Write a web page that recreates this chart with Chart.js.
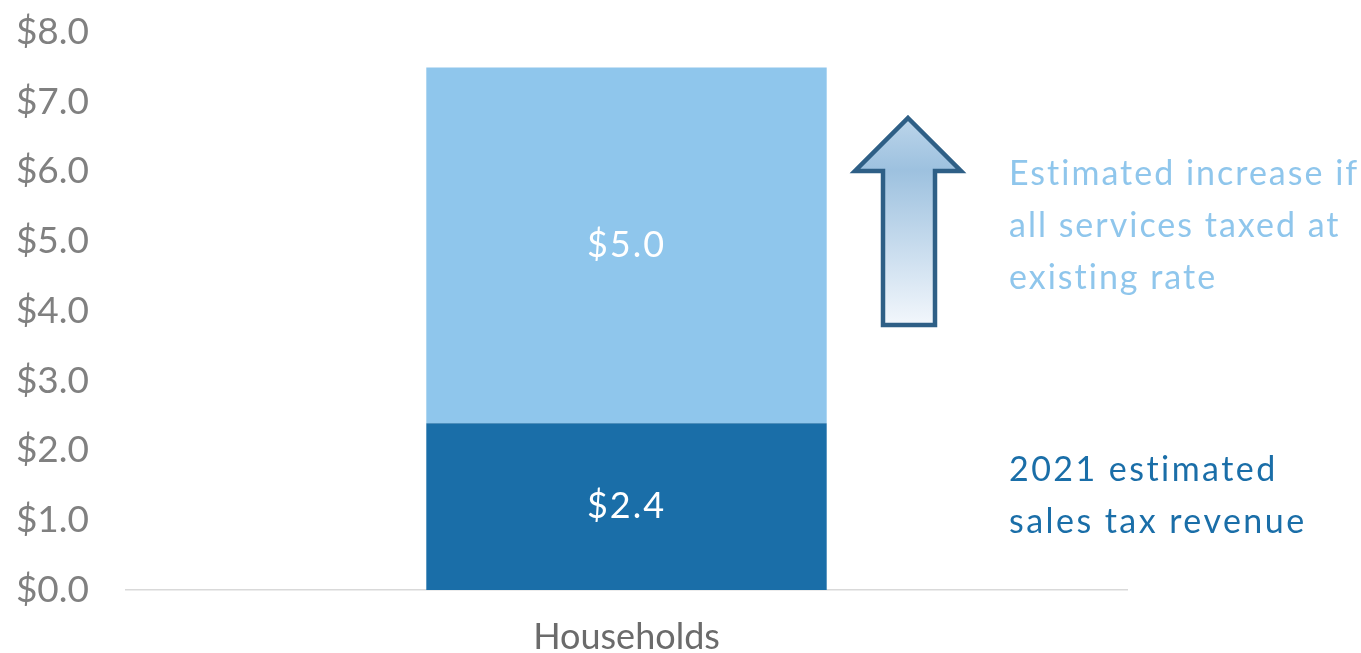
<!DOCTYPE html>
<html>
<head>
<meta charset="utf-8">
<script src="https://cdn.jsdelivr.net/npm/chart.js@4"></script>
<style>
  html, body { margin: 0; padding: 0; background: #fff; }
  #wrap { position: relative; width: 1361px; height: 653px; }
  .note { position: absolute; font-family: "Lato", sans-serif; font-size: 34px; line-height: 52px; letter-spacing: 2px; white-space: nowrap; }
  #noteTop { left: 1009px; top: 146px; color: #8fc6ec; }
  #noteBottom { left: 1009px; top: 442px; color: #1a6ea8; letter-spacing: 2.45px; }
</style>
</head>
<body>
<div id="wrap">
  <canvas id="chart" width="1361" height="653"></canvas>
  <div class="note" id="noteTop">Estimated increase if<br>all services taxed at<br>existing rate</div>
  <div class="note" id="noteBottom">2021 estimated<br>sales tax revenue</div>
</div>
<script>
const categories = ["Households"];
const baseRevenue = [2.39];
const increase = [5.1];
const baseLabels = ["$2.4"];
const increaseLabels = ["$5.0"];
const yTicks = [0, 1, 2, 3, 4, 5, 6, 7, 8];

// white value labels in the middle of each segment
const segmentLabels = {
  id: "segmentLabels",
  afterDatasetsDraw(chart) {
    const ctx = chart.ctx;
    const texts = [baseLabels, increaseLabels];
    ctx.save();
    ctx.fillStyle = "#ffffff";
    ctx.font = "36px Lato";
    ctx.letterSpacing = "2px";
    ctx.textAlign = "center";
    ctx.textBaseline = "middle";
    chart.data.datasets.forEach((ds, i) => {
      chart.getDatasetMeta(i).data.forEach((bar, j) => {
        const mid = (bar.y + bar.base) / 2;
        ctx.fillText(texts[i][j], bar.x, mid);
      });
    });
    ctx.restore();
  }
};

// the up arrow next to the bar
const upArrow = {
  id: "upArrow",
  afterDraw(chart) {
    const ctx = chart.ctx;
    ctx.save();
    const grad = ctx.createLinearGradient(0, 118, 0, 326);
    grad.addColorStop(0, "#bcd5ea");
    grad.addColorStop(0.25, "#9dc1df");
    grad.addColorStop(1, "#f3f7fc");
    ctx.beginPath();
    ctx.moveTo(908, 118);
    ctx.lineTo(961, 171);
    ctx.lineTo(935, 171);
    ctx.lineTo(935, 325);
    ctx.lineTo(883, 325);
    ctx.lineTo(883, 171);
    ctx.lineTo(855, 171);
    ctx.closePath();
    ctx.fillStyle = grad;
    ctx.fill();
    ctx.lineWidth = 4.5;
    ctx.strokeStyle = "#2e5f86";
    ctx.lineJoin = "miter";
    ctx.stroke();
    ctx.restore();
  }
};

const ctx = document.getElementById("chart").getContext("2d");
new Chart(ctx, {
  type: "bar",
  data: {
    labels: categories,
    datasets: [
      { label: "2021 estimated sales tax revenue", data: baseRevenue, backgroundColor: "#1a6ea8",
        barPercentage: 0.4, categoryPercentage: 1.0 },
      { label: "Estimated increase if all services taxed at existing rate", data: increase, backgroundColor: "#8fc6ec",
        barPercentage: 0.4, categoryPercentage: 1.0 }
    ]
  },
  options: {
    responsive: false,
    animation: false,
    layout: { padding: { left: 0, right: 234, top: 32, bottom: 0 } },
    plugins: {
      legend: { display: false },
      tooltip: { enabled: false }
    },
    scales: {
      x: {
        stacked: true,
        grid: { display: false, drawTicks: false },
        border: { display: true, color: "#d9d9d9", width: 1.5 },
        ticks: { color: "#6b6b6b", font: { family: "Lato", size: 36 }, padding: 26 },
        afterFit(scale) { scale.height = 63; }
      },
      y: {
        stacked: true,
        min: 0,
        max: 8,
        afterBuildTicks(scale) { scale.ticks = yTicks.map(v => ({ value: v })); },
        grid: { display: false, drawTicks: false },
        border: { display: false },
        ticks: {
          color: "#808080",
          font: { family: "Lato", size: 37 },
          padding: 37,
          callback: v => "$" + v.toFixed(1)
        },
        afterFit(scale) {
          scale.width = 126;
          scale.paddingTop = 0;
          scale.paddingBottom = 0;
        }
      }
    }
  },
  plugins: [segmentLabels, upArrow]
});
</script>
</body>
</html>
